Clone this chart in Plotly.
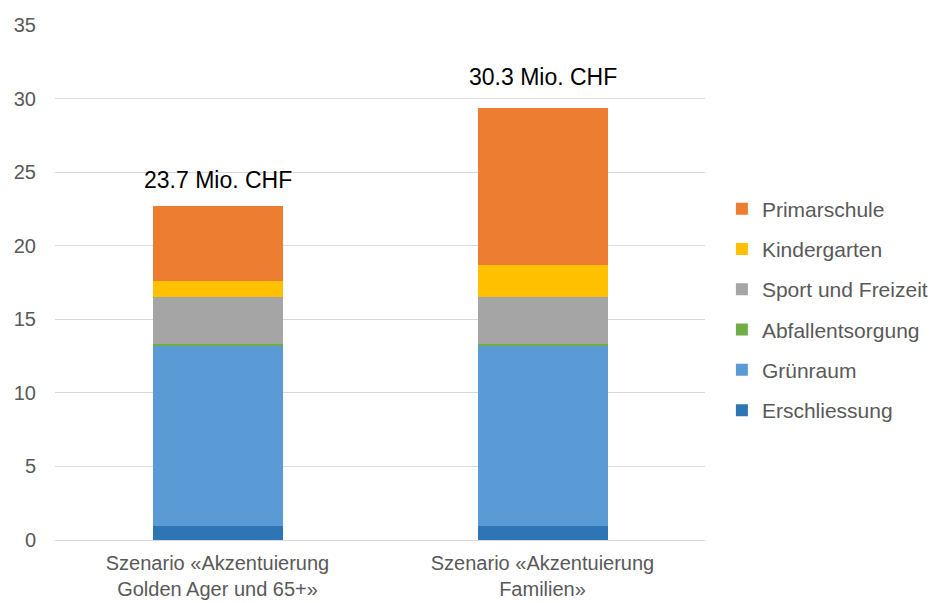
import plotly.graph_objects as go

categories = ["Szenario «Akzentuierung<br>Golden Ager und 65+»", "Szenario «Akzentuierung<br>Familien»"]
series_names = ["Erschliessung", "Grünraum", "Abfallentsorgung", "Sport und Freizeit", "Kindergarten", "Primarschule"]
erschliessung = [0.95, 0.95]
gruenraum = [12.23, 12.23]
abfall = [0.17, 0.17]
sport = [3.18, 3.18]
kindergarten = [1.07, 2.16]
primarschule = [5.13, 10.65]
totals_text = ["23.7 Mio. CHF", "30.3 Mio. CHF"]
total_positions = [24.5, 31.5]

colors = ["#2E75B6", "#5B9BD5", "#70AD47", "#A5A5A5", "#FFC000", "#ED7D31"]
values = [erschliessung, gruenraum, abfall, sport, kindergarten, primarschule]

FONT = "Liberation Sans, Arial, sans-serif"

fig = go.Figure()
n = len(series_names)
for i, (name, vals, col) in enumerate(zip(series_names, values, colors)):
    fig.add_trace(go.Bar(x=categories, y=vals, name=name, marker_color=col,
                         marker_line_width=0, legendgroup=f"g{i}",
                         legendrank=1000 + (n - i)))

for cat, txt, ypos in zip(categories, totals_text, total_positions):
    fig.add_annotation(x=cat, y=ypos, text=txt, showarrow=False,
                       font=dict(size=23, color="#000000", family=FONT))

fig.update_layout(
    barmode="stack",
    bargap=0.6,
    width=943, height=603,
    margin=dict(l=47, r=246, t=17, b=71),
    plot_bgcolor="white", paper_bgcolor="white",
    font=dict(family=FONT, color="#595959", size=20),
    legend=dict(x=1.026, y=0.4476, xanchor="left", yanchor="middle",
                traceorder="grouped", tracegroupgap=10,
                font=dict(size=21, color="#595959", family=FONT), itemwidth=30),
    yaxis=dict(range=[0, 35], dtick=5, showgrid=True, gridcolor="#D9D9D9",
               gridwidth=1, zeroline=False, showline=False, ticks="",
               ticklabelstandoff=18, automargin=False,
               tickfont=dict(size=20, color="#595959", family=FONT)),
    xaxis=dict(showline=True, linecolor="#D9D9D9", linewidth=1, ticks="",
               ticklabelstandoff=5, automargin=False,
               tickfont=dict(size=20, color="#595959", family=FONT)),
)

fig.write_html("out.html")
